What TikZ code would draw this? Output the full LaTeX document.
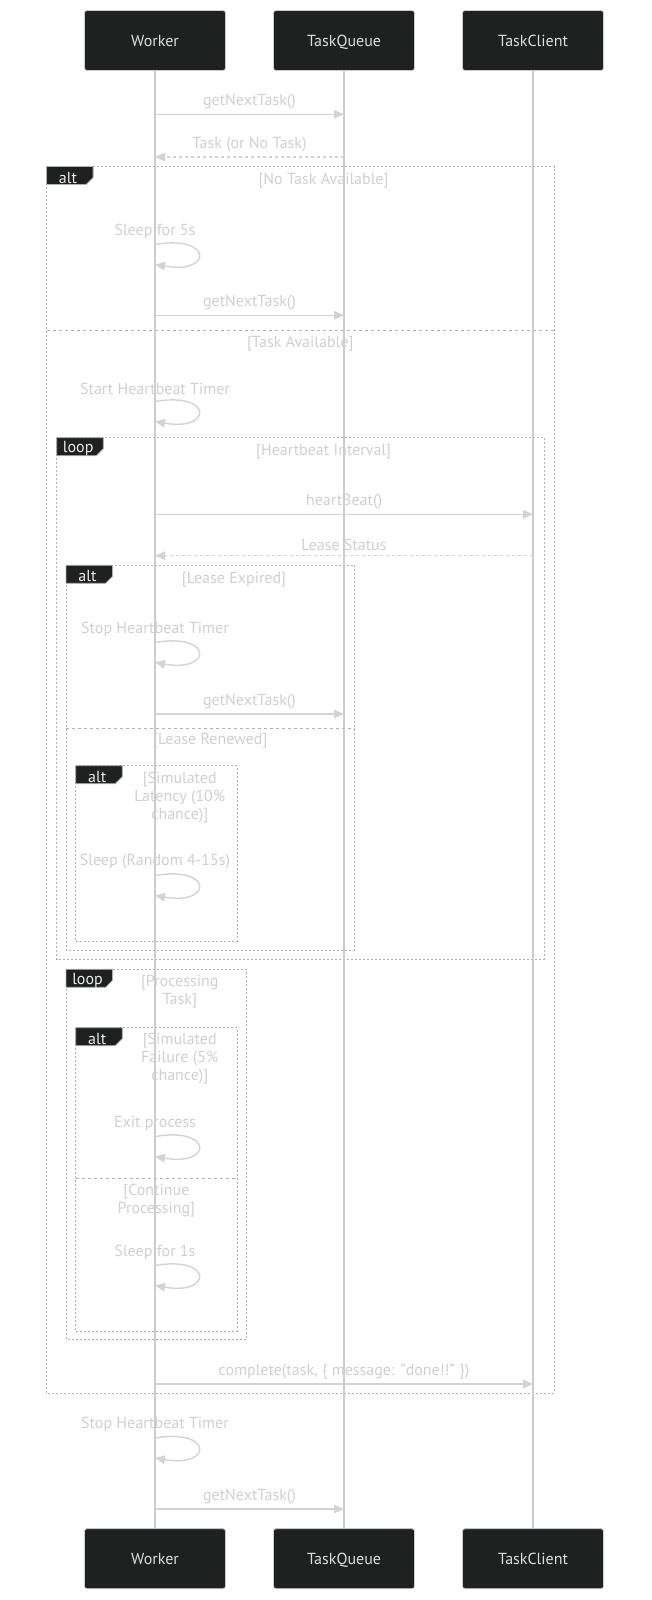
\documentclass[tikz,border=0pt]{standalone}
\usepackage{fontspec}
\setmainfont{PT Sans}
\usetikzlibrary{arrows.meta}
\definecolor{actfill}{HTML}{1F2020}
\definecolor{actline}{HTML}{CCCCCC}
\definecolor{acttext}{HTML}{DDDDDD}
\definecolor{lifecol}{HTML}{CCCCCC}
\definecolor{msgcol}{HTML}{D3D3D3}
\definecolor{lblcol}{HTML}{D0D0D0}
\definecolor{framecol}{HTML}{B0B0B0}
\definecolor{tagtext}{HTML}{EEEEEE}
\tikzset{
  actor/.style={draw=actline, line width=0.8pt, fill=actfill, rounded corners=2.5pt,
    minimum width=141pt, minimum height=60pt, inner sep=0pt, text=acttext,
    text height=12pt, text depth=0pt},
  lifeline/.style={draw=lifecol, line width=1.5pt},
  msg/.style={draw=msgcol, line width=1.4pt, -{Triangle[length=10pt,width=8.5pt]}},
  reply/.style={msg, dash pattern=on 3pt off 3pt},
  lbl/.style={text=lblcol, inner sep=0pt, align=center, yshift=-2pt},
  frame/.style={draw=framecol, line width=1pt, dash pattern=on 2pt off 2pt},
  sepline/.style={draw=framecol, line width=1pt, dash pattern=on 3pt off 3pt},
  tagbox/.style={draw=framecol, line width=0.8pt, fill=actfill},
  tagtxt/.style={text=tagtext, inner sep=0pt, yshift=-2pt},
}
\newcommand{\fragtag}[4]{% name, x, y, text
  \draw[tagbox] (#2,#3) -- ++(46.6,0) -- ++(0,11) -- ++(-7,7) -- ++(-39.6,0) -- cycle;
  \node[tagtxt] (#1) at (#2+21.5,#3+9) {#4};
}
\newcommand{\selfmsg}[3]{% name, x, y0
  \coordinate (#1s) at (#2,#3);
  \coordinate (#1e) at (#2,#3+20);
  \draw[msg] (#1s) .. controls +(58,-10) and +(58,10) .. (#1e);
}
\begin{document}
\begin{tikzpicture}[x=1pt,y=-1pt,font=\fontsize{16}{18}\selectfont]
\useasboundingbox (0,0) rectangle (652,1600);
\fill[white] (0,0) rectangle (652,1600);

% ---------- frames ----------
% alt: No Task / Task Available
\draw[frame] (46.5,166.5) rectangle (554,1393);
\fragtag{tagA}{46.5}{166.5}{alt}
\node[lbl] (tA1) at (323.5,179) {[No Task Available]};
\draw[sepline] (46.5,330) -- (554,330);
\node[lbl] (tA2) at (300.2,341.7) {[Task Available]};

% loop: Heartbeat Interval
\draw[frame] (56.7,437.7) rectangle (544,959.3);
\fragtag{tagL}{56.7}{437.7}{loop}
\node[lbl] (tL1) at (323.6,449.3) {[Heartbeat Interval]};

% alt: Lease Expired / Renewed
\draw[frame] (66,565.3) rectangle (354.7,950);
\fragtag{tagB}{66}{565.3}{alt}
\node[lbl] (tB1) at (234,577.3) {[Lease Expired]};
\draw[sepline] (66,728) -- (354.7,728);
\node[lbl] (tB2) at (210.3,738.7) {[Lease Renewed]};

% alt: Simulated Latency
\draw[frame] (75.7,765.7) rectangle (237,941);
\fragtag{tagC}{75.7}{765.7}{alt}
\node[lbl] (tC1) at (179.8,795.5) {[Simulated\\Latency (10\%\\chance)]};

% loop: Processing Task
\draw[frame] (66,969.3) rectangle (246,1339.7);
\fragtag{tagP}{66}{969.3}{loop}
\node[lbl] (tP1) at (179.7,989.8) {[Processing\\Task]};

% alt: Simulated Failure / Continue
\draw[frame] (75.7,1027.7) rectangle (237,1331);
\fragtag{tagD}{75.7}{1027.7}{alt}
\node[lbl] (tD1) at (179.8,1056.7) {[Simulated\\Failure (5\%\\chance)]};
\draw[sepline] (75.7,1178.3) -- (237,1178.3);
\node[lbl] (tD2) at (156.4,1198.9) {[Continue\\Processing]};

% ---------- actors ----------
\node[actor] (wTop) at (155,40.5) {Worker};
\node[actor] (qTop) at (344,40.5) {TaskQueue};
\node[actor] (cTop) at (533,40.5) {TaskClient};
\node[actor] (wBot) at (155,1558.7) {Worker};
\node[actor] (qBot) at (344,1558.7) {TaskQueue};
\node[actor] (cBot) at (533,1558.7) {TaskClient};

\draw[lifeline] (wTop.south) -- (wBot.north);
\draw[lifeline] (qTop.south) -- (qBot.north);
\draw[lifeline] (cTop.south) -- (cBot.north);

% ---------- messages ----------
\coordinate (m1s) at (155,114.3); \coordinate (m1e) at (344,114.3);
\node[lbl] (l1) at (249.5,99.5) {getNextTask()};
\draw[msg] (m1s) -- (m1e);

\coordinate (m2s) at (344,157); \coordinate (m2e) at (155,157);
\node[lbl] (l2) at (249.5,143) {Task (or No Task)};
\draw[reply] (m2s) -- (m2e);

\node[lbl] (l3) at (155,229.2) {Sleep for 5s};
\selfmsg{m3}{155}{244.5}

\coordinate (m4s) at (155,315.3); \coordinate (m4e) at (344,315.3);
\node[lbl] (l4) at (249.5,301) {getNextTask()};
\draw[msg] (m4s) -- (m4e);

\node[lbl] (l5) at (155,386.7) {Start Heartbeat Timer};
\selfmsg{m5}{155}{401.5}

\coordinate (m6s) at (155,514.3); \coordinate (m6e) at (533,514.3);
\node[lbl] (l6) at (344,500) {heartBeat()};
\draw[msg] (m6s) -- (m6e);

\coordinate (m7s) at (533,555.7); \coordinate (m7e) at (155,555.7);
\node[lbl] (l7) at (344,542.8) {Lease Status};
\draw[reply] (m7s) -- (m7e);

\node[lbl] (l8) at (155,627.3) {Stop Heartbeat Timer};
\selfmsg{m8}{155}{642.5}

\coordinate (m9s) at (155,714); \coordinate (m9e) at (344,714);
\node[lbl] (l9) at (249.5,699.3) {getNextTask()};
\draw[msg] (m9s) -- (m9e);

\node[lbl] (l10) at (155,860) {Sleep (Random 4-15s)};
\selfmsg{m10}{155}{875.5}

\node[lbl] (l11) at (155,1121) {Exit process};
\selfmsg{m11}{155}{1136.5}

\node[lbl] (l12) at (155,1250.5) {Sleep for 1s};
\selfmsg{m12}{155}{1265.5}

\coordinate (m13s) at (155,1384); \coordinate (m13e) at (533,1384);
\node[lbl] (l13) at (344,1370) {complete(task, \{ message: "done!!" \})};
\draw[msg] (m13s) -- (m13e);

\node[lbl] (l14) at (155,1422.7) {Stop Heartbeat Timer};
\selfmsg{m14}{155}{1438}

\coordinate (m15s) at (155,1509); \coordinate (m15e) at (344,1509);
\node[lbl] (l15) at (249.5,1494.3) {getNextTask()};
\draw[msg] (m15s) -- (m15e);
\end{tikzpicture}
\end{document}
